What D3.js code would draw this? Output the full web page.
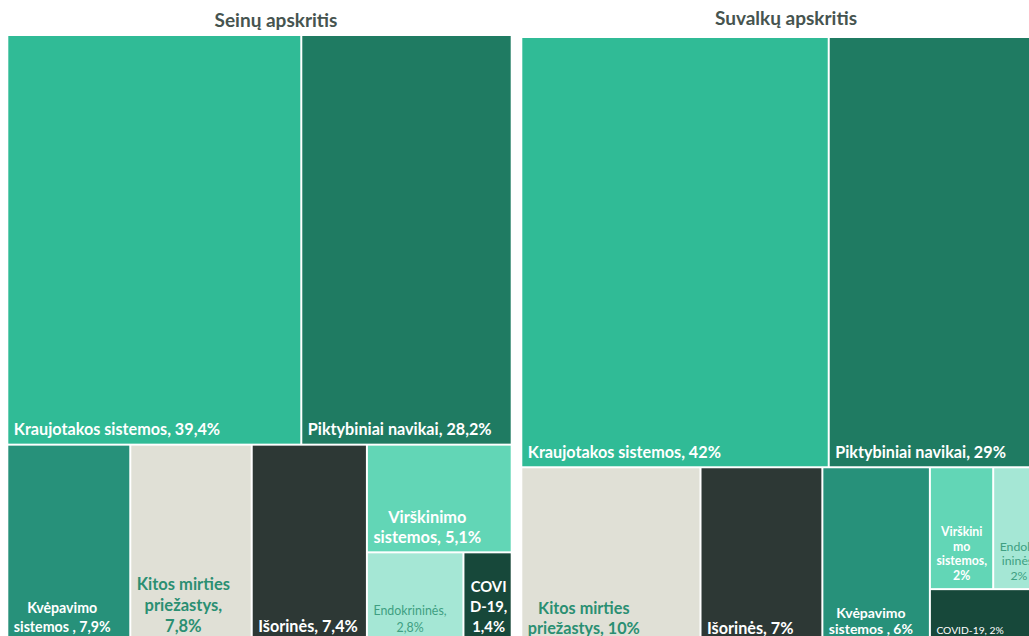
<!DOCTYPE html>
<html>
<head>
<meta charset="utf-8">
<script src="https://cdn.jsdelivr.net/npm/d3@7"></script>
<style>
  html, body { margin: 0; padding: 0; background: #ffffff; }
  svg { display: block; }
  text { font-family: Lato, "Open Sans", sans-serif; }
</style>
</head>
<body>
<svg id="chart" width="1029" height="636"></svg>
<script>
// ---------------- DATA ----------------
const categories = [
  "Kraujotakos sistemos", "Piktybiniai navikai", "Kvėpavimo sistemos",
  "Kitos mirties priežastys", "Išorinės", "Virškinimo sistemos",
  "Endokrininės", "COVID-19"
];
const seinuTitle = "Seinų apskritis";
const suvalkuTitle = "Suvalkų apskritis";
const seinuValues   = [39.4, 28.2, 7.9, 7.8, 7.4, 5.1, 2.8, 1.4];
const suvalkuValues = [42.0, 29.0, 6.0, 10.0, 6.8, 2.45, 1.85, 1.9];

// label text lines (as wrapped in the original)
const seinuLabels = [
  ["Kraujotakos sistemos, 39,4%"],
  ["Piktybiniai navikai, 28,2%"],
  ["Kvėpavimo", "sistemos , 7,9%"],
  ["Kitos mirties", "priežastys,", "7,8%"],
  ["Išorinės, 7,4%"],
  ["Virškinimo", "sistemos, 5,1%"],
  ["Endokrininės,", "2,8%"],
  ["COVI", "D-19,", "1,4%"]
];
const suvalkuLabels = [
  ["Kraujotakos sistemos, 42%"],
  ["Piktybiniai navikai, 29%"],
  ["Kvėpavimo", "sistemos , 6%"],
  ["Kitos mirties", "priežastys, 10%"],
  ["Išorinės, 7%"],
  ["Virškini", "mo", "sistemos,", "2%"],
  ["Endokr", "ininės,", "2%"],
  ["COVID-19, 2%"]
];

// tiling structure (indices into the category arrays); v = stacked, h = side by side
const seinuLayout = { dir: "v", children: [
  { dir: "h", children: [0, 1] },
  { dir: "h", children: [2, 3, 4, { dir: "v", children: [5, { dir: "h", children: [6, 7] }] }] }
]};
const suvalkuLayout = { dir: "v", children: [
  { dir: "h", children: [0, 1] },
  { dir: "h", children: [3, 4, 2, { dir: "v", children: [{ dir: "h", children: [5, 6] }, 7] }] }
]};

// ---------------- STYLES ----------------
const fillColors = ["#30bb96", "#1f7b62", "#27917a", "#e0e0d6", "#2d3835", "#62d6b6", "#a5e7d5", "#17483a"];
const textColors = ["#ffffff", "#ffffff", "#ffffff", "#2a8f72", "#ffffff", "#ffffff", "#3f9f82", "#ffffff"];
const seinuText = [
  { size: 16.2, weight: 700, lh: 19 }, { size: 16.2, weight: 700, lh: 19 },
  { size: 14.2, weight: 700, lh: 19 }, { size: 16.5, weight: 700, lh: 21 },
  { size: 16.2, weight: 700, lh: 19 }, { size: 16.4, weight: 700, lh: 20 },
  { size: 12.4, weight: 400, lh: 17 }, { size: 14.8, weight: 700, lh: 20 }
];
const suvalkuText = [
  { size: 16.2, weight: 700, lh: 19 }, { size: 16.2, weight: 700, lh: 19 },
  { size: 14, weight: 700, lh: 16 }, { size: 16.2, weight: 700, lh: 20 },
  { size: 16.2, weight: 700, lh: 19 }, { size: 12.3, weight: 700, lh: 14.5 },
  { size: 12.3, weight: 400, lh: 14.5 }, { size: 10.3, weight: 400, lh: 14.5 }
];

const svg = d3.select("#chart");

function buildTree(layout, values) {
  const conv = n => (typeof n === "number")
    ? { idx: n, value: values[n] }
    : { dir: n.dir, children: n.children.map(conv) };
  return conv(layout);
}

function tile(node, x0, y0, x1, y1) {
  (node.data.dir === "v" ? d3.treemapSlice : d3.treemapDice)(node, x0, y0, x1, y1);
}

function drawTreemap(opts) {
  const root = d3.hierarchy(buildTree(opts.layout, opts.values)).sum(d => d.value || 0);
  d3.treemap()
    .tile(tile)
    .size([opts.x1 - opts.x0, opts.y1 - opts.y0])
    .paddingInner(2)(root);

  const g = svg.append("g").attr("transform", `translate(${opts.x0},${opts.y0})`);
  const leaves = root.leaves();

  const cell = g.selectAll("g.cell").data(leaves).join("g").attr("class", "cell");
  cell.append("rect")
    .attr("x", d => d.x0).attr("y", d => d.y0)
    .attr("width", d => d.x1 - d.x0).attr("height", d => d.y1 - d.y0)
    .attr("fill", d => fillColors[d.data.idx]);

  cell.each(function (d) {
    const i = d.data.idx;
    const st = opts.textStyle[i];
    const lines = opts.labels[i];
    const t = d3.select(this).append("text")
      .attr("fill", textColors[i])
      .attr("font-size", st.size)
      .attr("font-weight", st.weight);
    const spans = lines.map(l => t.append("tspan").text(l));
    const widths = spans.map(s => s.node().getComputedTextLength());
    const bw = d3.max(widths);
    const cx = d.x0 + 5.5 + bw / 2;
    const lastBase = d.y1 - 8.5;
    spans.forEach((s, k) => {
      s.attr("x", cx).attr("y", lastBase - (lines.length - 1 - k) * st.lh)
       .attr("text-anchor", "middle");
    });
  });

  svg.append("text")
    .attr("x", opts.titleX).attr("y", opts.titleY)
    .attr("text-anchor", "middle")
    .attr("font-size", 19).attr("font-weight", 700)
    .attr("fill", "#46544f")
    .text(opts.title);
}

drawTreemap({ layout: seinuLayout, values: seinuValues, labels: seinuLabels, textStyle: seinuText,
  x0: 8.3, y0: 36, x1: 510.7, y1: 640, title: seinuTitle, titleX: 276, titleY: 27 });
drawTreemap({ layout: suvalkuLayout, values: suvalkuValues, labels: suvalkuLabels, textStyle: suvalkuText,
  x0: 522.3, y0: 38, x1: 1040, y1: 642, title: suvalkuTitle, titleX: 786, titleY: 25 });
</script>
</body>
</html>
